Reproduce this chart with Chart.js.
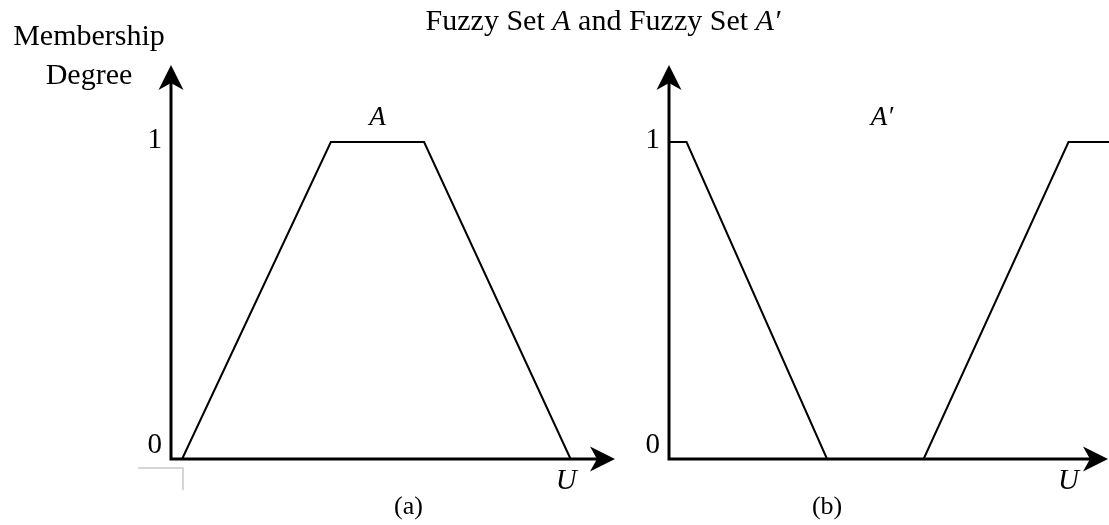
<!DOCTYPE html>
<html>
<head>
<meta charset="utf-8">
<script src="https://cdn.jsdelivr.net/npm/chart.js@4/dist/chart.umd.min.js"></script>
<style>
  html, body { margin: 0; padding: 0; background: #ffffff; }
  #wrap { position: relative; width: 1109px; height: 525px; overflow: hidden; }
  #wrap canvas { position: absolute; top: 0; }
  #setA { left: 0; }
  #setB { left: 640px; }
</style>
</head>
<body>
<div id="wrap">
  <canvas id="setA" width="1109" height="525"></canvas>
  <canvas id="setB" width="469" height="525"></canvas>
</div>
<script>
// Fuzzy set A: trapezoidal membership over the universe U (0..100 along the arrow)
const setAU = [2.5, 36, 57, 90];
const setADegree = [0, 1, 1, 0];

// Fuzzy set A′ over the same universe
const setBU = [0, 4, 36, 58, 91, 101];
const setBDegree = [1, 1, 0, 0, 1, 1];

// Membership-degree tick labels and axis extents
const degreeTicks = [0, 1];
const degreeTickLabels = ['0', '1'];
const universeMax = 100;
const degreeMax = 1.243;

const chartTitle = [['Fuzzy Set ', false], ['A', true], [' and Fuzzy Set ', false], ['A\u2032', true]];
const yAxisTitle = ['Membership', 'Degree'];
const universeLabel = 'U';

const SERIF = '"Liberation Serif", "Times New Roman", serif';

function toPoints(us, ds) {
  return us.map((u, i) => ({ x: u, y: ds[i] }));
}

// Filled barbed arrowhead pointing in direction (dx, dy)
function arrowHead(ctx, tx, ty, dx, dy) {
  const len = 25, half = 12.5, notch = 18;
  const px = -dy, py = dx;
  ctx.beginPath();
  ctx.moveTo(tx, ty);
  ctx.lineTo(tx - dx * len + px * half, ty - dy * len + py * half);
  ctx.lineTo(tx - dx * notch, ty - dy * notch);
  ctx.lineTo(tx - dx * len - px * half, ty - dy * len - py * half);
  ctx.closePath();
  ctx.fill();
}

const fuzzyAxes = {
  id: 'fuzzyAxes',
  beforeDatasetsDraw(chart, args, opts) {
    const ctx = chart.ctx;
    const xs = chart.scales.x, ys = chart.scales.y;
    const ox = xs.getPixelForValue(0), oy = ys.getPixelForValue(0);
    const xTip = xs.getPixelForValue(universeMax);
    const yTip = ys.getPixelForValue(degreeMax);
    ctx.save();
    ctx.strokeStyle = '#000';
    ctx.fillStyle = '#000';
    ctx.lineWidth = 3;
    ctx.lineCap = 'butt';
    ctx.lineJoin = 'miter';
    ctx.beginPath();
    ctx.moveTo(ox, yTip + 15);
    ctx.lineTo(ox, oy);
    ctx.lineTo(xTip - 15, oy);
    ctx.stroke();
    arrowHead(ctx, ox, yTip, 0, -1);
    arrowHead(ctx, xTip, oy, 1, 0);
    ctx.restore();
  },
  afterDraw(chart, args, opts) {
    const ctx = chart.ctx;
    const xs = chart.scales.x, ys = chart.scales.y;
    const ox = xs.getPixelForValue(0), oy = ys.getPixelForValue(0);
    ctx.save();
    ctx.fillStyle = '#000';

    // degree ticks
    ctx.font = '29px ' + SERIF;
    ctx.textAlign = 'right';
    ctx.textBaseline = 'alphabetic';
    degreeTicks.forEach((v, i) => {
      const py = ys.getPixelForValue(v);
      const base = v === 0 ? py - 6 : py + 6;
      ctx.fillText(degreeTickLabels[i], ox - 9, base);
    });

    // universe label under the x arrow
    ctx.font = 'italic 29px ' + SERIF;
    ctx.textAlign = 'center';
    ctx.fillText(universeLabel, xs.getPixelForValue(opts.uLabelAt), oy + 30);

    // set name above the plateau
    ctx.font = 'italic 27px ' + SERIF;
    ctx.fillText(opts.setName, xs.getPixelForValue(opts.setNameAt), ys.getPixelForValue(1) - 17);

    // panel caption
    ctx.font = '26px ' + SERIF;
    ctx.fillText(opts.caption, xs.getPixelForValue(opts.captionAt), oy + 55);

    if (opts.withTitles) {
      ctx.font = '30px ' + SERIF;
      ctx.fillText(yAxisTitle[0], 89, 45);
      ctx.fillText(yAxisTitle[1], 89, 84);

      // chart title with italic set names
      ctx.textAlign = 'left';
      const fonts = chartTitle.map(([t, it]) => (it ? 'italic ' : '') + '30px ' + SERIF);
      let total = 0;
      const widths = chartTitle.map(([t], i) => { ctx.font = fonts[i]; const w = ctx.measureText(t).width; total += w; return w; });
      let x = 603 - total / 2;
      chartTitle.forEach(([t], i) => { ctx.font = fonts[i]; ctx.fillText(t, x, 30); x += widths[i]; });

      // light corner mark below the origin
      ctx.strokeStyle = '#c8c8c8';
      ctx.lineWidth = 1.5;
      ctx.beginPath();
      ctx.moveTo(138, oy + 9);
      ctx.lineTo(183, oy + 9);
      ctx.lineTo(183, oy + 31);
      ctx.stroke();
    }
    ctx.restore();
  }
};

function makePanel(canvasId, points, padding, panelOpts) {
  return new Chart(document.getElementById(canvasId), {
    type: 'scatter',
    data: {
      datasets: [{
        data: points,
        showLine: true,
        borderColor: '#000',
        borderWidth: 2,
        pointRadius: 0,
        tension: 0,
        clip: false
      }]
    },
    options: {
      responsive: false,
      animation: false,
      devicePixelRatio: 1,
      layout: { padding },
      scales: {
        x: { type: 'linear', min: 0, max: universeMax, display: false },
        y: { type: 'linear', min: 0, max: degreeMax, display: false }
      },
      plugins: {
        legend: { display: false },
        tooltip: { enabled: false },
        fuzzyAxes: panelOpts
      }
    },
    plugins: [fuzzyAxes]
  });
}

makePanel('setA', toPoints(setAU, setADegree),
  { left: 171, right: 494, top: 65, bottom: 66 },
  { setName: 'A', setNameAt: 46.5, uLabelAt: 89, caption: '(a)', captionAt: 53.5, withTitles: true });

makePanel('setB', toPoints(setBU, setBDegree),
  { left: 29, right: 1, top: 65, bottom: 66 },
  { setName: 'A\u2032', setNameAt: 48.5, uLabelAt: 91, caption: '(b)', captionAt: 36, withTitles: false });
</script>
</body>
</html>
